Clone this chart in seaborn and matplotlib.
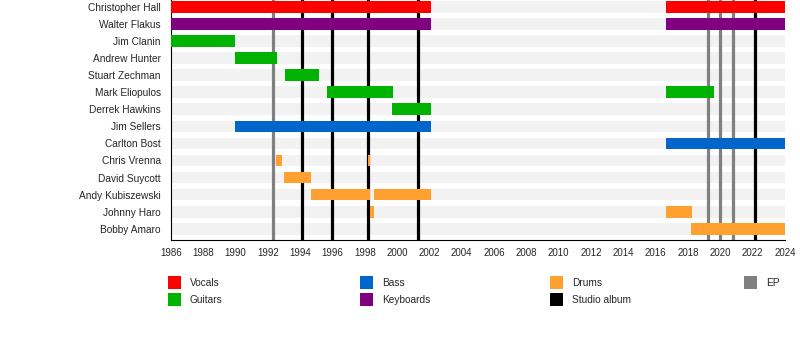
import matplotlib
matplotlib.use("Agg")
import matplotlib.pyplot as plt
import seaborn as sns
from matplotlib.patches import Rectangle

# members, top to bottom
members = ["Christopher Hall", "Walter Flakus", "Jim Clanin", "Andrew Hunter",
           "Stuart Zechman", "Mark Eliopulos", "Derrek Hawkins", "Jim Sellers",
           "Carlton Bost", "Chris Vrenna", "David Suycott", "Andy Kubiszewski",
           "Johnny Haro", "Bobby Amaro"]

# (member, start, end) for each role
vocals = [("Christopher Hall", 1986, 2002.1), ("Christopher Hall", 2016.65, 2024)]
keyboards = [("Walter Flakus", 1986, 2002.1), ("Walter Flakus", 2016.65, 2024)]
guitars = [("Jim Clanin", 1986, 1990.0), ("Andrew Hunter", 1990.0, 1992.6),
           ("Stuart Zechman", 1993.05, 1995.15), ("Mark Eliopulos", 1995.65, 1999.75),
           ("Mark Eliopulos", 2016.65, 2019.6), ("Derrek Hawkins", 1999.7, 2002.1)]
bass = [("Jim Sellers", 1990.0, 2002.1), ("Carlton Bost", 2016.65, 2024)]
drums = [("Chris Vrenna", 1992.5, 1992.87), ("Chris Vrenna", 1998.2, 1998.33),
         ("David Suycott", 1993.0, 1994.7), ("Andy Kubiszewski", 1994.65, 1998.3),
         ("Andy Kubiszewski", 1998.55, 2002.1), ("Johnny Haro", 1998.3, 1998.6),
         ("Johnny Haro", 2016.65, 2018.25), ("Bobby Amaro", 2018.2, 2024)]

studio_albums = [1994.1, 1996.0, 1998.22, 2001.3, 2022.15]
eps = [1992.33, 2019.25, 2020.0, 2020.8]

colors = {"Vocals": "#ff0000", "Guitars": "#00b300", "Bass": "#0066cc",
          "Keyboards": "#800080", "Drums": "#ffa030",
          "Studio album": "#000000", "EP": "#808080"}

sns.set_style("white")
plt.rcParams["font.family"] = ["Liberation Sans", "DejaVu Sans"]

fig = plt.figure(figsize=(8, 3.54), dpi=100)
ax = fig.add_axes([0.2134, 0.3234, 0.7679, 0.6766])

# light background stripes (bars from 0, clipped at 1986)
sns.barplot(x=[2024] * len(members), y=members, order=members, color="#f2f2f2",
            width=0.68, saturation=1, linewidth=0, ax=ax, zorder=1)

for yr in eps:
    ax.axvline(yr, color=colors["EP"], lw=2.3, zorder=2)
for yr in studio_albums:
    ax.axvline(yr, color=colors["Studio album"], lw=2.3, zorder=2)

row = {m: i for i, m in enumerate(members)}
for role, spans in [("Vocals", vocals), ("Keyboards", keyboards), ("Guitars", guitars),
                    ("Bass", bass), ("Drums", drums)]:
    for m, s, e in spans:
        ax.barh(row[m], e - s, left=s, height=0.68, color=colors[role],
                linewidth=0, zorder=3)

ax.set_xlim(1986, 2024)
ax.set_ylim(13.63, -0.404)
ax.set_xlabel("")
ax.set_ylabel("")
ax.set_xticks(range(1986, 2025, 2))
ax.set_xticks(range(1986, 2025), minor=True)
ax.tick_params(axis="x", which="major", direction="out", length=4, width=0.8,
               color="black", labelsize=7, pad=2)
ax.tick_params(axis="x", which="minor", direction="out", length=2.2, width=0.8,
               color="black")
ax.tick_params(axis="y", length=0, labelsize=7.3, pad=7)
for side in ["top", "right"]:
    ax.spines[side].set_visible(False)
for side in ["left", "bottom"]:
    ax.spines[side].set_color("black")
    ax.spines[side].set_linewidth(0.8)

# legend laid out in columns like the original
legend_items = [("Vocals", 168, 276), ("Guitars", 168, 293),
                ("Bass", 360, 276), ("Keyboards", 360, 293),
                ("Drums", 550, 276), ("Studio album", 550, 293),
                ("EP", 744, 276)]
W, H = 800, 354
for name, px, py in legend_items:
    fig.add_artist(Rectangle((px / W, 1 - (py + 13) / H), 12.5 / W, 13 / H,
                             transform=fig.transFigure, color=colors[name], lw=0))
    fig.text((px + 22) / W, 1 - (py + 7) / H, name, fontsize=7.3, va="center",
             ha="left")

fig.savefig("out.png", dpi=100)
